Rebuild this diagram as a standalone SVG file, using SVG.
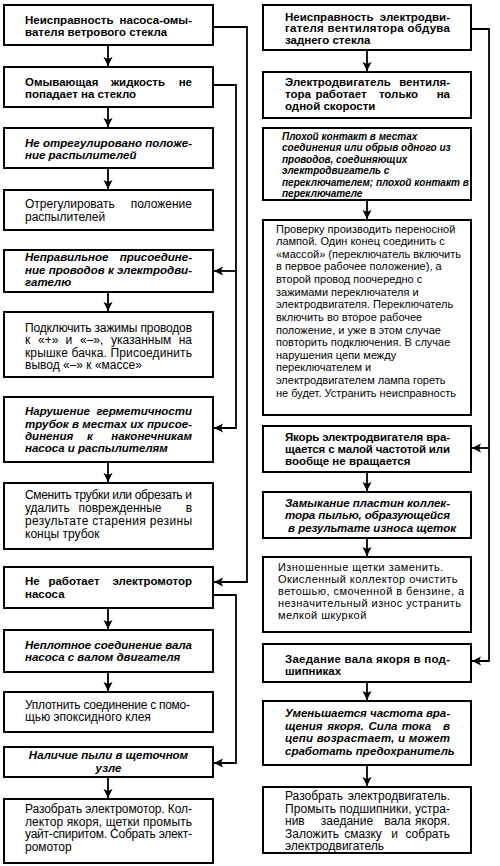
<svg xmlns="http://www.w3.org/2000/svg" width="500" height="866" viewBox="0 0 500 866">
<style>
.bx{fill:#fff;stroke:#000;stroke-width:2}
text{font-family:"Liberation Sans",Arial,sans-serif;fill:#000}
.b{font-size:11.5px;font-weight:bold}
.bi{font-size:11.5px;font-weight:bold;font-style:italic}
.r{font-size:12px}
.s{font-size:10px;font-weight:bold;font-style:italic}
.m{font-size:11px}
.w{font-size:11px;letter-spacing:0.45px}
.c{fill:none;stroke:#000;stroke-width:1.8}
.e{text-anchor:end}
.mid{text-anchor:middle}
</style>
<defs>
<marker id="ah" markerUnits="userSpaceOnUse" markerWidth="10" markerHeight="10" refX="9" refY="4.5" orient="auto">
<path d="M0,0 L9,4.5 L0,9 L2,4.5 z" fill="#000"/>
</marker>
</defs>
<rect width="500" height="866" fill="#fff"/>

<g id="connectors">
<path class="c" d="M108,45 V66" marker-end="url(#ah)"/>
<path class="c" d="M108,107 V127" marker-end="url(#ah)"/>
<path class="c" d="M108,168 V189" marker-end="url(#ah)"/>
<path class="c" d="M108,292 V311" marker-end="url(#ah)"/>
<path class="c" d="M108,462 V482" marker-end="url(#ah)"/>
<path class="c" d="M108,608 V629" marker-end="url(#ah)"/>
<path class="c" d="M108,672 V691" marker-end="url(#ah)"/>
<path class="c" d="M108,777 V798" marker-end="url(#ah)"/>
<path class="c" d="M367,50 V71" marker-end="url(#ah)"/>
<path class="c" d="M367,200 V219" marker-end="url(#ah)"/>
<path class="c" d="M367,472 V491" marker-end="url(#ah)"/>
<path class="c" d="M367,538 V556" marker-end="url(#ah)"/>
<path class="c" d="M367,682 V700" marker-end="url(#ah)"/>
<path class="c" d="M367,765 V786" marker-end="url(#ah)"/>
<path class="c" d="M213,27 H247 V582 H214" marker-end="url(#ah)"/>
<path class="c" d="M213,85 H236 V428 H214" marker-end="url(#ah)"/>
<path class="c" d="M236,271 H214" marker-end="url(#ah)"/>
<path class="c" d="M213,595 H236 V763 H214" marker-end="url(#ah)"/>
<path class="c" d="M471,29 H489 V661 H472" marker-end="url(#ah)"/>
<path class="c" d="M489,448 H472" marker-end="url(#ah)"/>
</g>

<g id="L1">
<rect class="bx" x="4" y="5" width="209" height="40"/>
<text class="b" y="24"><tspan x="25">Неисправность</tspan><tspan x="192" class="e">насоса-омы-</tspan></text>
<text class="b" x="25" y="36">вателя ветрового стекла</text>
</g>
<g id="L2">
<rect class="bx" x="4" y="67" width="209" height="40"/>
<text class="b" y="86"><tspan x="25">Омывающая</tspan><tspan x="138" class="mid">жидкость</tspan><tspan x="192" class="e">не</tspan></text>
<text class="b" x="25" y="98">попадает на стекло</text>
</g>
<g id="L3">
<rect class="bx" x="4" y="128" width="209" height="40"/>
<text class="bi" x="25" y="146.5" textLength="167" lengthAdjust="spacing">Не отрегулировано положе-</text>
<text class="bi" x="25" y="159">ние распылителей</text>
</g>
<g id="L4">
<rect class="bx" x="4" y="190" width="209" height="40"/>
<text class="r" y="208"><tspan x="25">Отрегулировать</tspan><tspan x="192" class="e">положение</tspan></text>
<text class="r" x="25" y="221">распылителей</text>
</g>
<g id="L5">
<rect class="bx" x="4" y="250" width="209" height="42"/>
<text class="bi" y="261"><tspan x="25">Неправильное</tspan><tspan x="192" class="e">присоедине-</tspan></text>
<text class="bi" x="25" y="273.5" textLength="167" lengthAdjust="spacing">ние проводов к электродви-</text>
<text class="bi" x="25" y="286">гателю</text>
</g>
<g id="L6">
<rect class="bx" x="4" y="312" width="209" height="65"/>
<text class="r" x="25" y="331.5" textLength="167" lengthAdjust="spacing">Подключить зажимы проводов</text>
<text class="r" y="344"><tspan x="25">к</tspan><tspan x="38">«+»</tspan><tspan x="65.5">и</tspan><tspan x="80">«–»,</tspan><tspan x="111">указанным</tspan><tspan x="192" class="e">на</tspan></text>
<text class="r" x="25" y="356.5" textLength="167" lengthAdjust="spacing">крышке бачка. Присоединить</text>
<text class="r" x="25" y="369">вывод «–» к «массе»</text>
</g>
<g id="L7">
<rect class="bx" x="4" y="397" width="209" height="65"/>
<text class="bi" y="415"><tspan x="25">Нарушение</tspan><tspan x="192" class="e">герметичности</tspan></text>
<text class="bi" x="25" y="427.5" textLength="167" lengthAdjust="spacing">трубок в местах их присое-</text>
<text class="bi" y="440"><tspan x="25">динения</tspan><tspan x="90" class="mid">к</tspan><tspan x="192" class="e">наконечникам</tspan></text>
<text class="bi" x="25" y="452">насоса и распылителям</text>
</g>
<g id="L8">
<rect class="bx" x="4" y="483" width="209" height="66"/>
<text class="r" x="25" y="498.5" textLength="167" lengthAdjust="spacing">Сменить трубки или обрезать и</text>
<text class="r" y="511.5"><tspan x="25">удалить</tspan><tspan x="120" class="mid">поврежденные</tspan><tspan x="192" class="e">в</tspan></text>
<text class="r" x="25" y="524.5" textLength="167" lengthAdjust="spacing">результате старения резины</text>
<text class="r" x="25" y="537.5">концы трубок</text>
</g>
<g id="L9">
<rect class="bx" x="4" y="567" width="209" height="41"/>
<text class="b" y="585"><tspan x="25">Не</tspan><tspan x="74" class="mid">работает</tspan><tspan x="192" class="e">электромотор</tspan></text>
<text class="b" x="25" y="597.5">насоса</text>
</g>
<g id="L10">
<rect class="bx" x="4" y="630" width="209" height="42"/>
<text class="bi" x="25" y="648.5" textLength="167" lengthAdjust="spacing">Неплотное соединение вала</text>
<text class="bi" x="25" y="661">насоса с валом двигателя</text>
</g>
<g id="L11">
<rect class="bx" x="4" y="692" width="209" height="40"/>
<text class="r" x="25" y="708.5" textLength="165" lengthAdjust="spacing">Уплотнить соединение с помо-</text>
<text class="r" x="25" y="721">щью эпоксидного клея</text>
</g>
<g id="L12">
<rect class="bx" x="4" y="747" width="209" height="30"/>
<text class="bi mid" x="108.5" y="759">Наличие пыли в щеточном</text>
<text class="bi mid" x="108.5" y="772">узле</text>
</g>
<g id="L13">
<rect class="bx" x="4" y="799" width="209" height="64"/>
<text class="r" x="25" y="813" textLength="167" lengthAdjust="spacing">Разобрать электромотор. Кол-</text>
<text class="r" x="25" y="825.5" textLength="167" lengthAdjust="spacing">лектор якоря, щетки промыть</text>
<text class="r" x="25" y="838" textLength="167" lengthAdjust="spacing">уайт-спиритом. Собрать элект-</text>
<text class="r" x="25" y="850.5">ромотор</text>
</g>

<g id="R1">
<rect class="bx" x="263" y="5" width="208" height="45"/>
<text class="b" y="20.5"><tspan x="285">Неисправность</tspan><tspan x="450" class="e">электродви-</tspan></text>
<text class="b" x="285" y="32" textLength="165" lengthAdjust="spacing">гателя вентилятора обдува</text>
<text class="b" x="285" y="43.5">заднего стекла</text>
</g>
<g id="R2">
<rect class="bx" x="263" y="72" width="208" height="46"/>
<text class="b" y="86"><tspan x="285">Электродвигатель</tspan><tspan x="450" class="e">вентиля-</tspan></text>
<text class="b" y="98"><tspan x="285">тора</tspan><tspan x="341" class="mid">работает</tspan><tspan x="398.5" class="mid">только</tspan><tspan x="450" class="e">на</tspan></text>
<text class="b" x="285" y="110">одной скорости</text>
</g>
<g id="R3">
<rect class="bx" x="263" y="128" width="208" height="72"/>
<text class="s" x="282" y="139.5">Плохой контакт в местах</text>
<text class="s" x="282" y="151">соединения или обрыв одного из</text>
<text class="s" x="282" y="162.5">проводов, соединяющих</text>
<text class="s" x="282" y="174">электродвигатель с</text>
<text class="s" x="282" y="185.5">переключателем; плохой контакт в</text>
<text class="s" x="282" y="197">переключателе</text>
</g>
<g id="R4">
<rect class="bx" x="263" y="220" width="208" height="195"/>
<text class="m" x="276" y="232.5">Проверку производить переносной</text>
<text class="m" x="276" y="245.1">лампой. Один конец соединить с</text>
<text class="m" x="276" y="257.8">«массой» (переключатель включить</text>
<text class="m" x="276" y="270.4">в первое рабочее положение), а</text>
<text class="m" x="276" y="283">второй провод поочередно с</text>
<text class="m" x="276" y="295.7">зажимами переключателя и</text>
<text class="m" x="276" y="308.3">электродвигателя. Переключатель</text>
<text class="m" x="276" y="320.9">включить во второе рабочее</text>
<text class="m" x="276" y="333.5">положение, и уже в этом случае</text>
<text class="m" x="276" y="346.2">повторить подключения. В случае</text>
<text class="m" x="276" y="358.8">нарушения цепи между</text>
<text class="m" x="276" y="371.4">переключателем и</text>
<text class="m" x="276" y="384">электродвигателем лампа гореть</text>
<text class="m" x="276" y="396.7">не будет. Устранить неисправность</text>
</g>
<g id="R5">
<rect class="bx" x="263" y="426" width="208" height="46"/>
<text class="b" x="285" y="440.5" textLength="165" lengthAdjust="spacing">Якорь электродвигателя вра-</text>
<text class="b" x="285" y="452.7" textLength="165" lengthAdjust="spacing">щается с малой частотой или</text>
<text class="b" x="285" y="465">вообще не вращается</text>
</g>
<g id="R6">
<rect class="bx" x="263" y="492" width="208" height="46"/>
<text class="bi" x="285" y="506.5" textLength="165" lengthAdjust="spacing">Замыкание пластин коллек-</text>
<text class="bi" x="285" y="519" textLength="165" lengthAdjust="spacing">тора пылью, образующейся</text>
<text class="bi" x="288" y="531.5">в результате износа щеток</text>
</g>
<g id="R7">
<rect class="bx" x="263" y="557" width="208" height="75"/>
<text class="w" x="278" y="571">Изношенные щетки заменить.</text>
<text class="w" x="278" y="583">Окисленный коллектор очистить</text>
<text class="w" x="278" y="595">ветошью, смоченной в бензине, а</text>
<text class="w" x="278" y="607">незначительный износ устранить</text>
<text class="w" x="278" y="619">мелкой шкуркой</text>
</g>
<g id="R8">
<rect class="bx" x="263" y="644" width="208" height="38"/>
<text class="b" x="285" y="662.5" textLength="165" lengthAdjust="spacing">Заедание вала якоря в под-</text>
<text class="b" x="285" y="675">шипниках</text>
</g>
<g id="R9">
<rect class="bx" x="263" y="701" width="208" height="64"/>
<text class="bi" x="285" y="717" textLength="165" lengthAdjust="spacing">Уменьшается частота вра-</text>
<text class="bi" y="729.5"><tspan x="285">щения</tspan><tspan x="345.5" class="mid">якоря.</tspan><tspan x="383" class="mid">Сила</tspan><tspan x="416.5" class="mid">тока</tspan><tspan x="450" class="e">в</tspan></text>
<text class="bi" x="285" y="742" textLength="165" lengthAdjust="spacing">цепи возрастает, и может</text>
<text class="bi" x="285" y="754.5">сработать предохранитель</text>
</g>
<g id="R10">
<rect class="bx" x="263" y="787" width="208" height="66"/>
<text class="r" y="800"><tspan x="285">Разобрать</tspan><tspan x="450" class="e">электродвигатель.</tspan></text>
<text class="r" x="285" y="812.5" textLength="165" lengthAdjust="spacing">Промыть подшипники, устра-</text>
<text class="r" y="825"><tspan x="285">нив</tspan><tspan x="347" class="mid">заедание</tspan><tspan x="397.5" class="mid">вала</tspan><tspan x="450" class="e">якоря.</tspan></text>
<text class="r" y="837.5"><tspan x="285">Заложить</tspan><tspan x="363" class="mid">смазку</tspan><tspan x="394.5" class="mid">и</tspan><tspan x="450" class="e">собрать</tspan></text>
<text class="r" x="285" y="850">электродвигатель</text>
</g>
</svg>
